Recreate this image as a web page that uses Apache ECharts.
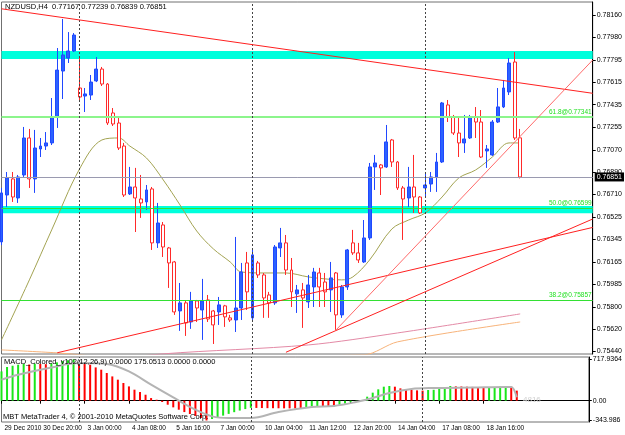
<!DOCTYPE html>
<html>
<head>
<meta charset="utf-8">
<title>NZDUSD H4</title>
<script src="https://cdn.jsdelivr.net/npm/echarts@6/dist/echarts.min.js"></script>
<style>
html, body { margin: 0; padding: 0; background: #fff; }
#chart { width: 625px; height: 435px; }
</style>
</head>
<body>
<div id="chart"></div>
<script>
// H4 bar times (last 13 are the empty shift area on the right)
const barTimes = [
  '29 Dec 16:00', '29 Dec 20:00',
  '30 Dec 00:00', '30 Dec 04:00', '30 Dec 08:00', '30 Dec 12:00', '30 Dec 16:00', '30 Dec 20:00',
  '31 Dec 00:00', '31 Dec 04:00', '31 Dec 08:00', '31 Dec 12:00', '31 Dec 16:00', '31 Dec 20:00',
  '2 Jan 20:00',
  '3 Jan 00:00', '3 Jan 04:00', '3 Jan 08:00', '3 Jan 12:00', '3 Jan 16:00', '3 Jan 20:00',
  '4 Jan 00:00', '4 Jan 04:00', '4 Jan 08:00', '4 Jan 12:00', '4 Jan 16:00', '4 Jan 20:00',
  '5 Jan 00:00', '5 Jan 04:00', '5 Jan 08:00', '5 Jan 12:00', '5 Jan 16:00', '5 Jan 20:00',
  '6 Jan 00:00', '6 Jan 04:00', '6 Jan 08:00', '6 Jan 12:00', '6 Jan 16:00', '6 Jan 20:00',
  '7 Jan 00:00', '7 Jan 04:00', '7 Jan 08:00', '7 Jan 12:00', '7 Jan 16:00', '7 Jan 20:00',
  '9 Jan 20:00',
  '10 Jan 00:00', '10 Jan 04:00', '10 Jan 08:00', '10 Jan 12:00', '10 Jan 16:00', '10 Jan 20:00',
  '11 Jan 00:00', '11 Jan 04:00', '11 Jan 08:00', '11 Jan 12:00', '11 Jan 16:00', '11 Jan 20:00',
  '12 Jan 00:00', '12 Jan 04:00', '12 Jan 08:00', '12 Jan 12:00', '12 Jan 16:00', '12 Jan 20:00',
  '13 Jan 00:00', '13 Jan 04:00', '13 Jan 08:00', '13 Jan 12:00', '13 Jan 16:00', '13 Jan 20:00',
  '14 Jan 00:00', '14 Jan 04:00', '14 Jan 08:00', '14 Jan 12:00', '14 Jan 16:00', '14 Jan 20:00',
  '16 Jan 20:00',
  '17 Jan 00:00', '17 Jan 04:00', '17 Jan 08:00', '17 Jan 12:00', '17 Jan 16:00', '17 Jan 20:00',
  '18 Jan 00:00', '18 Jan 04:00', '18 Jan 08:00', '18 Jan 12:00', '18 Jan 16:00', '18 Jan 20:00',
  '19 Jan 00:00', '19 Jan 04:00', '19 Jan 08:00', '19 Jan 12:00', '19 Jan 16:00', '19 Jan 20:00',
  '20 Jan 00:00', '20 Jan 04:00', '20 Jan 08:00', '20 Jan 12:00', '20 Jan 16:00', '20 Jan 20:00',
  '21 Jan 00:00', '21 Jan 04:00', '21 Jan 08:00', '21 Jan 12:00', '21 Jan 16:00', '21 Jan 20:00'
];

// bottom time labels: [bar index, text]
const timeTicks = [
  [0, '29 Dec 2010'], [7, '30 Dec 20:00'], [15, '3 Jan 00:00'], [23, '4 Jan 08:00'],
  [31, '5 Jan 16:00'], [39, '7 Jan 00:00'], [47, '10 Jan 04:00'], [55, '11 Jan 12:00'],
  [63, '12 Jan 20:00'], [71, '14 Jan 04:00'], [79, '17 Jan 08:00'], [87, '18 Jan 16:00']
];
const weekStarts = [14, 45, 76];

const opens = [
  0.76326, 0.76705, 0.76835, 0.76681, 0.76867, 0.77166, 0.76835, 0.77077, 0.77101, 0.77126,
  0.77336, 0.77707, 0.77812, 0.77869, 0.77570, 0.77505, 0.77513, 0.77627, 0.77723, 0.77602,
  0.77368, 0.77287, 0.77101, 0.76714, 0.76770, 0.76673, 0.76649, 0.76754, 0.76318, 0.76463,
  0.76277, 0.76164, 0.75768, 0.75833, 0.75679, 0.75849, 0.75776, 0.75857, 0.75768, 0.75760,
  0.75809, 0.75712, 0.75695, 0.75792, 0.76156, 0.75712, 0.76156, 0.76059, 0.75897, 0.75833,
  0.76277, 0.76318, 0.76099, 0.75906, 0.75938, 0.75841, 0.75962, 0.76075, 0.76002, 0.75938,
  0.76075, 0.75736, 0.75962, 0.76318, 0.76237, 0.76164, 0.76358, 0.76932, 0.76948, 0.76932,
  0.77150, 0.76972, 0.76762, 0.76681, 0.76770, 0.76689, 0.76762, 0.76794, 0.76851, 0.76972,
  0.77433, 0.77336, 0.77206, 0.77126, 0.77166, 0.77336, 0.77295, 0.77061, 0.77029, 0.77295,
  0.77417, 0.77538, 0.77780, 0.77167
];
const closes = [
  0.76722, 0.76843, 0.76689, 0.76851, 0.77166, 0.76835, 0.77085, 0.77101, 0.77126, 0.77336,
  0.77715, 0.77837, 0.77869, 0.77998, 0.77497, 0.77522, 0.77618, 0.77723, 0.77602, 0.77287,
  0.77279, 0.77085, 0.76705, 0.76770, 0.76681, 0.76641, 0.76746, 0.76318, 0.76479, 0.76285,
  0.76156, 0.75760, 0.75833, 0.75671, 0.75849, 0.75792, 0.75849, 0.75703, 0.75655, 0.75817,
  0.75720, 0.75695, 0.75792, 0.76083, 0.75922, 0.76221, 0.76059, 0.75873, 0.75833, 0.76285,
  0.76318, 0.76099, 0.75922, 0.75938, 0.75873, 0.75978, 0.76083, 0.75962, 0.75922, 0.76035,
  0.75736, 0.75962, 0.76261, 0.76237, 0.76180, 0.76358, 0.76932, 0.76964, 0.76924, 0.77134,
  0.76972, 0.76762, 0.76673, 0.76770, 0.76689, 0.76560, 0.76786, 0.76851, 0.76972, 0.77449,
  0.77336, 0.77206, 0.77126, 0.77158, 0.77336, 0.77295, 0.77012, 0.77077, 0.77295, 0.77417,
  0.77570, 0.77772, 0.77166, 0.76851
];
const lows = [
  0.76301, 0.76608, 0.76649, 0.76641, 0.76851, 0.76762, 0.76722, 0.77012, 0.77069, 0.77109,
  0.77247, 0.77481, 0.77772, 0.77861, 0.77473, 0.77376, 0.77473, 0.77618, 0.77586, 0.77271,
  0.77263, 0.77069, 0.76689, 0.76705, 0.76406, 0.76520, 0.76584, 0.76261, 0.76277, 0.76204,
  0.75954, 0.75736, 0.75607, 0.75566, 0.75623, 0.75679, 0.75534, 0.75679, 0.75501, 0.75655,
  0.75639, 0.75679, 0.75598, 0.75695, 0.75776, 0.75695, 0.76035, 0.75712, 0.75712, 0.75817,
  0.76204, 0.76059, 0.75800, 0.75752, 0.75631, 0.75792, 0.75800, 0.75800, 0.75800, 0.75760,
  0.75615, 0.75712, 0.75938, 0.76221, 0.76156, 0.76156, 0.76342, 0.76746, 0.76705, 0.76924,
  0.76932, 0.76746, 0.76342, 0.76608, 0.76560, 0.76552, 0.76689, 0.76730, 0.76730, 0.76964,
  0.77295, 0.77190, 0.77012, 0.77045, 0.77158, 0.77166, 0.77004, 0.76924, 0.77021, 0.77287,
  0.77408, 0.77513, 0.77150, 0.76839
];
const highs = [
  0.76762, 0.76891, 0.76891, 0.76867, 0.77255, 0.77239, 0.77231, 0.77166, 0.77214, 0.77489,
  0.77893, 0.78128, 0.78022, 0.78014, 0.77820, 0.77570, 0.77675, 0.77820, 0.77740, 0.77610,
  0.77408, 0.77328, 0.77126, 0.76932, 0.76924, 0.76867, 0.76786, 0.76770, 0.76641, 0.76487,
  0.76285, 0.76172, 0.75994, 0.75849, 0.75922, 0.75857, 0.76027, 0.75897, 0.75776, 0.75881,
  0.75817, 0.75736, 0.76366, 0.76156, 0.76245, 0.76261, 0.76172, 0.76075, 0.75922, 0.76301,
  0.76439, 0.76382, 0.76196, 0.75978, 0.75994, 0.76059, 0.76116, 0.76116, 0.76075, 0.76164,
  0.76083, 0.75978, 0.76269, 0.76423, 0.76318, 0.76503, 0.76964, 0.77029, 0.76956, 0.77271,
  0.77158, 0.76980, 0.76778, 0.76932, 0.77029, 0.76697, 0.76891, 0.76891, 0.77045, 0.77457,
  0.77473, 0.77352, 0.77336, 0.77352, 0.77352, 0.77416, 0.77392, 0.77109, 0.77311, 0.77570,
  0.77635, 0.77812, 0.77861, 0.77239
];

// moving averages read at a few bars: [bar index, price]
const maOlive = [
  [0, 0.75534], [5, 0.76019], [9, 0.76423], [14, 0.76916], [18, 0.77150], [21, 0.77166],
  [23, 0.77101], [26, 0.77004], [29, 0.76827], [32, 0.76625], [35, 0.76414], [38, 0.76269],
  [41, 0.76164], [43, 0.76083], [47, 0.76075], [51, 0.76075], [55, 0.76043], [58, 0.76027],
  [61, 0.76019], [63, 0.76043], [66, 0.76180], [70, 0.76431], [73, 0.76503], [76, 0.76560],
  [79, 0.76689], [82, 0.76843], [85, 0.76907], [88, 0.77012], [91, 0.77126], [93, 0.77126]
];
const maPink = [[15, 0.75350], [29, 0.75421], [55, 0.75493], [71, 0.75590], [93, 0.75744]];
const maOrange = [[0, 0.75453], [10, 0.75429], [20, 0.75395], [65, 0.75413], [71, 0.75518], [93, 0.75679]];

// trend lines: [bar1, price1, bar2, price2]
const trendLines = [
  [0, 0.78210, 106, 0.77527],
  [10, 0.75430, 106, 0.76443],
  [51, 0.75434, 106, 0.76511]
];
const steepLine = [60, 0.75615, 106, 0.77796];

// rectangles [low, high] and fibo levels [level, price]
const zoneBands = [[0.77804, 0.77869], [0.76558, 0.76617]];
const fibLevels = [[61.8, 0.77341], [50.0, 0.76599], [38.2, 0.75857]];

const priceTicks = [0.78160, 0.77980, 0.77795, 0.77615, 0.77435, 0.77255, 0.77070, 0.76890,
  0.76710, 0.76525, 0.76345, 0.76165, 0.75985, 0.75800, 0.75620, 0.75440];

// MACD histogram and signal
const macdHist = [
  510, 587, 609, 627, 639, 630, 645, 640, 636, 650, 668, 690, 705, 717.9,
  674, 656, 627, 580, 540, 482, 423, 366, 308, 249, 192, 151, 104, 46, 17,
  -23, -70, -116, -157, -198, -232, -266, -301, -344,
  -319, -290, -260, -230, -200, -172, -146, -124,
  -126, -128, -130, -131, -132, -133, -134, -135, -136,
  -110, -100, -92, -94, -96, -98, -70, -50, -26, -10,
  12, 70, 140, 198, 244, 256,
  244, 215, 198, 186, 180, 175,
  186, 190, 215, 233, 256,
  250, 248, 244, 240, 233, 221,
  225, 233, 244, 256,
  244, 175.05
];
const macdSignal = [
  [0, 366], [3, 453], [9, 580], [14, 656], [19, 639], [23, 510], [27, 279], [31, 57],
  [35, -157], [38, -273], [41, -301], [45, -301], [50, -197], [56, -110], [60, -92],
  [64, -23], [67, 47], [70, 134], [74, 204], [78, 221], [85, 230], [91, 239], [92, 239], [93, 60]
];
const macdTicks = [717.9364, 0, -343.986];
const macdTickText = ['717.9364', '0.00', '-343.986'];

const chartTitle = 'NZDUSD,H4  0.77167 0.77239 0.76839 0.76851';
const macdTitle = 'MACD_Colored_v102(12,26,9) 0.0000 175.0513 0.0000 0.0000';
const footer = 'MBT MetaTrader 4, \u00a9 2001-2010 MetaQuotes Software Corp.';
const macdValueTag = '4816';

const FONT = 'Liberation Sans';
const FS = 7.5;
const FS_AXIS = 7;
const FS_TIME = 6.5;

const chart = echarts.init(document.getElementById('chart'));

const candleData = opens.map((o, i) => [o, closes[i], lows[i], highs[i]]);
const histData = macdHist.map((v, i) => ({
  value: v,
  itemStyle: { color: i === 0 || v > macdHist[i - 1] ? '#19e619' : '#ff0000' }
}));
const tickText = {};
timeTicks.forEach(([i, t]) => { tickText[i] = t; });
const lastClose = closes[closes.length - 1];

const titleStyle = { fontSize: FS, fontWeight: 'normal', color: '#000', fontFamily: FONT };

const option = {
  animation: false,
  backgroundColor: '#ffffff',
  textStyle: { fontFamily: FONT },
  title: [
    { text: chartTitle, left: 5, top: 3, padding: 0, textStyle: titleStyle },
    { text: macdTitle, left: 4, top: 358, padding: 0, textStyle: titleStyle },
    { text: footer, left: 3, top: 413, padding: 0, textStyle: titleStyle },
    { text: macdValueTag, left: 523, top: 396, padding: 0,
      textStyle: { fontSize: 8, fontWeight: 'normal', color: '#d0d0d0', fontFamily: FONT } }
  ],
  grid: [
    { left: 1.5, right: 27, top: 2, bottom: 81, show: true, borderColor: '#707070', borderWidth: 1 },
    { left: 1.5, right: 27, top: 357, bottom: 13, show: true, borderColor: '#707070', borderWidth: 1 }
  ],
  xAxis: [
    {
      type: 'category', gridIndex: 0, data: barTimes, boundaryGap: false,
      axisLine: { show: false }, axisTick: { show: false }, axisLabel: { show: false }, splitLine: { show: false }
    },
    {
      type: 'category', gridIndex: 1, data: barTimes, boundaryGap: false,
      axisLine: { show: true, lineStyle: { color: '#000' } },
      axisTick: { show: true, length: 3, interval: (i) => tickText[i] !== undefined, lineStyle: { color: '#000' } },
      axisLabel: {
        show: true, interval: (i) => tickText[i] !== undefined, showMinLabel: true, hideOverlap: false,
        formatter: (v, i) => tickText[i] || '',
        align: 'left', padding: [0, 0, 0, 3], margin: 3,
        fontSize: FS_TIME, color: '#000', fontFamily: FONT
      },
      splitLine: { show: false }
    }
  ],
  yAxis: [
    {
      type: 'value', gridIndex: 0, position: 'right', min: 0.75420, max: 0.78265, scale: true,
      splitLine: { show: false },
      axisLine: { show: true, lineStyle: { color: '#000' } },
      axisTick: { show: true, length: 3, customValues: priceTicks, lineStyle: { color: '#000' } },
      axisLabel: {
        customValues: priceTicks, formatter: (v) => v.toFixed(5),
        fontSize: FS_AXIS, color: '#000', margin: 4, fontFamily: FONT
      }
    },
    {
      type: 'value', gridIndex: 1, position: 'right', min: -371, max: 761,
      splitLine: { show: false },
      axisLine: { show: true, lineStyle: { color: '#000' } },
      axisTick: { show: true, length: 3, customValues: macdTicks, lineStyle: { color: '#000' } },
      axisLabel: {
        customValues: macdTicks,
        formatter: (v) => {
          let best = 0;
          macdTicks.forEach((t, k) => { if (Math.abs(t - v) < Math.abs(macdTicks[best] - v)) best = k; });
          return macdTickText[best];
        },
        fontSize: FS_AXIS, color: '#000', margin: 4, fontFamily: FONT
      }
    }
  ],
  series: [
    {
      // background rectangles
      name: 'zones', type: 'line', xAxisIndex: 0, yAxisIndex: 0, data: [], z: 1, silent: true,
      markArea: {
        silent: true,
        itemStyle: { color: '#00ffdc', opacity: 1 },
        data: zoneBands.map(([lo, hi]) => [{ yAxis: lo }, { yAxis: hi }])
      }
    },
    {
      // fibo levels + bid line
      name: 'levels', type: 'line', xAxisIndex: 0, yAxisIndex: 0, data: [], z: 2, silent: true,
      markLine: {
        silent: true, symbol: 'none', precision: 5,
        data: fibLevels.map(([lvl, p], k) => ({
          yAxis: p,
          lineStyle: { color: k === 0 ? '#8cf58c' : '#33e033', width: k === 0 ? 2 : 1, type: 'solid' },
          label: {
            show: true, position: 'insideEndTop', distance: [1, 1],
            formatter: lvl.toFixed(1) + '@' + p.toFixed(5),
            color: '#22e022', fontSize: FS_TIME, fontFamily: FONT
          }
        })).concat([{
          yAxis: lastClose,
          lineStyle: { color: '#9a9ab0', width: 1, type: 'solid' },
          label: {
            show: true, position: 'end', distance: 2,
            formatter: lastClose.toFixed(5),
            color: '#fff', backgroundColor: '#000', padding: [1, 2, 1, 2],
            fontSize: FS_AXIS, fontFamily: FONT
          }
        }])
      }
    },
    {
      name: 'MA olive', type: 'line', xAxisIndex: 0, yAxisIndex: 0, data: maOlive,
      smooth: 0.35, showSymbol: false, z: 3, lineStyle: { color: '#a3a352', width: 1 }
    },
    {
      name: 'MA pink', type: 'line', xAxisIndex: 0, yAxisIndex: 0, data: maPink,
      smooth: 0.3, showSymbol: false, z: 3, lineStyle: { color: '#e38aa6', width: 1 }
    },
    {
      name: 'MA orange', type: 'line', xAxisIndex: 0, yAxisIndex: 0, data: maOrange,
      smooth: 0.3, showSymbol: false, z: 3, lineStyle: { color: '#f7b37a', width: 1 }
    },
    {
      name: 'NZDUSD', type: 'candlestick', xAxisIndex: 0, yAxisIndex: 0, data: candleData,
      barWidth: 3.4, z: 4,
      itemStyle: {
        color: '#2b62ff', color0: '#ffffff',
        borderColor: '#2048ff', borderColor0: '#ff2a2a', borderWidth: 1
      },
      markLine: {
        silent: true, symbol: 'none', label: { show: false },
        lineStyle: { color: '#444', width: 1, type: [2, 2] },
        data: weekStarts.map((i) => ({ xAxis: i }))
      }
    },
    {
      // trend lines drawn on top
      name: 'trend', type: 'line', xAxisIndex: 0, yAxisIndex: 0, data: [], z: 5, silent: true,
      markLine: {
        silent: true, symbol: 'none', precision: 5, label: { show: false },
        data: trendLines.map(([i1, p1, i2, p2]) => [
          { coord: [i1, p1], lineStyle: { color: '#ff2020', width: 1, type: 'solid' } },
          { coord: [i2, p2] }
        ]).concat([[
          { coord: [steepLine[0], steepLine[1]], lineStyle: { color: '#ff6a6a', width: 1, type: 'solid' } },
          { coord: [steepLine[2], steepLine[3]] }
        ]])
      }
    },
    {
      name: 'MACD', type: 'bar', xAxisIndex: 1, yAxisIndex: 1, data: histData,
      barWidth: 2, z: 2,
      markLine: {
        silent: true, symbol: 'none', label: { show: false },
        lineStyle: { color: '#444', width: 1, type: [2, 2] },
        data: weekStarts.map((i) => ({ xAxis: i }))
      }
    },
    {
      name: 'Signal', type: 'line', xAxisIndex: 1, yAxisIndex: 1, data: macdSignal,
      smooth: 0.35, showSymbol: false, z: 3, lineStyle: { color: '#b4b4b4', width: 2 }
    }
  ]
};

chart.setOption(option);
window.addEventListener('resize', () => {
  chart.resize();
});
</script>
</body>
</html>
